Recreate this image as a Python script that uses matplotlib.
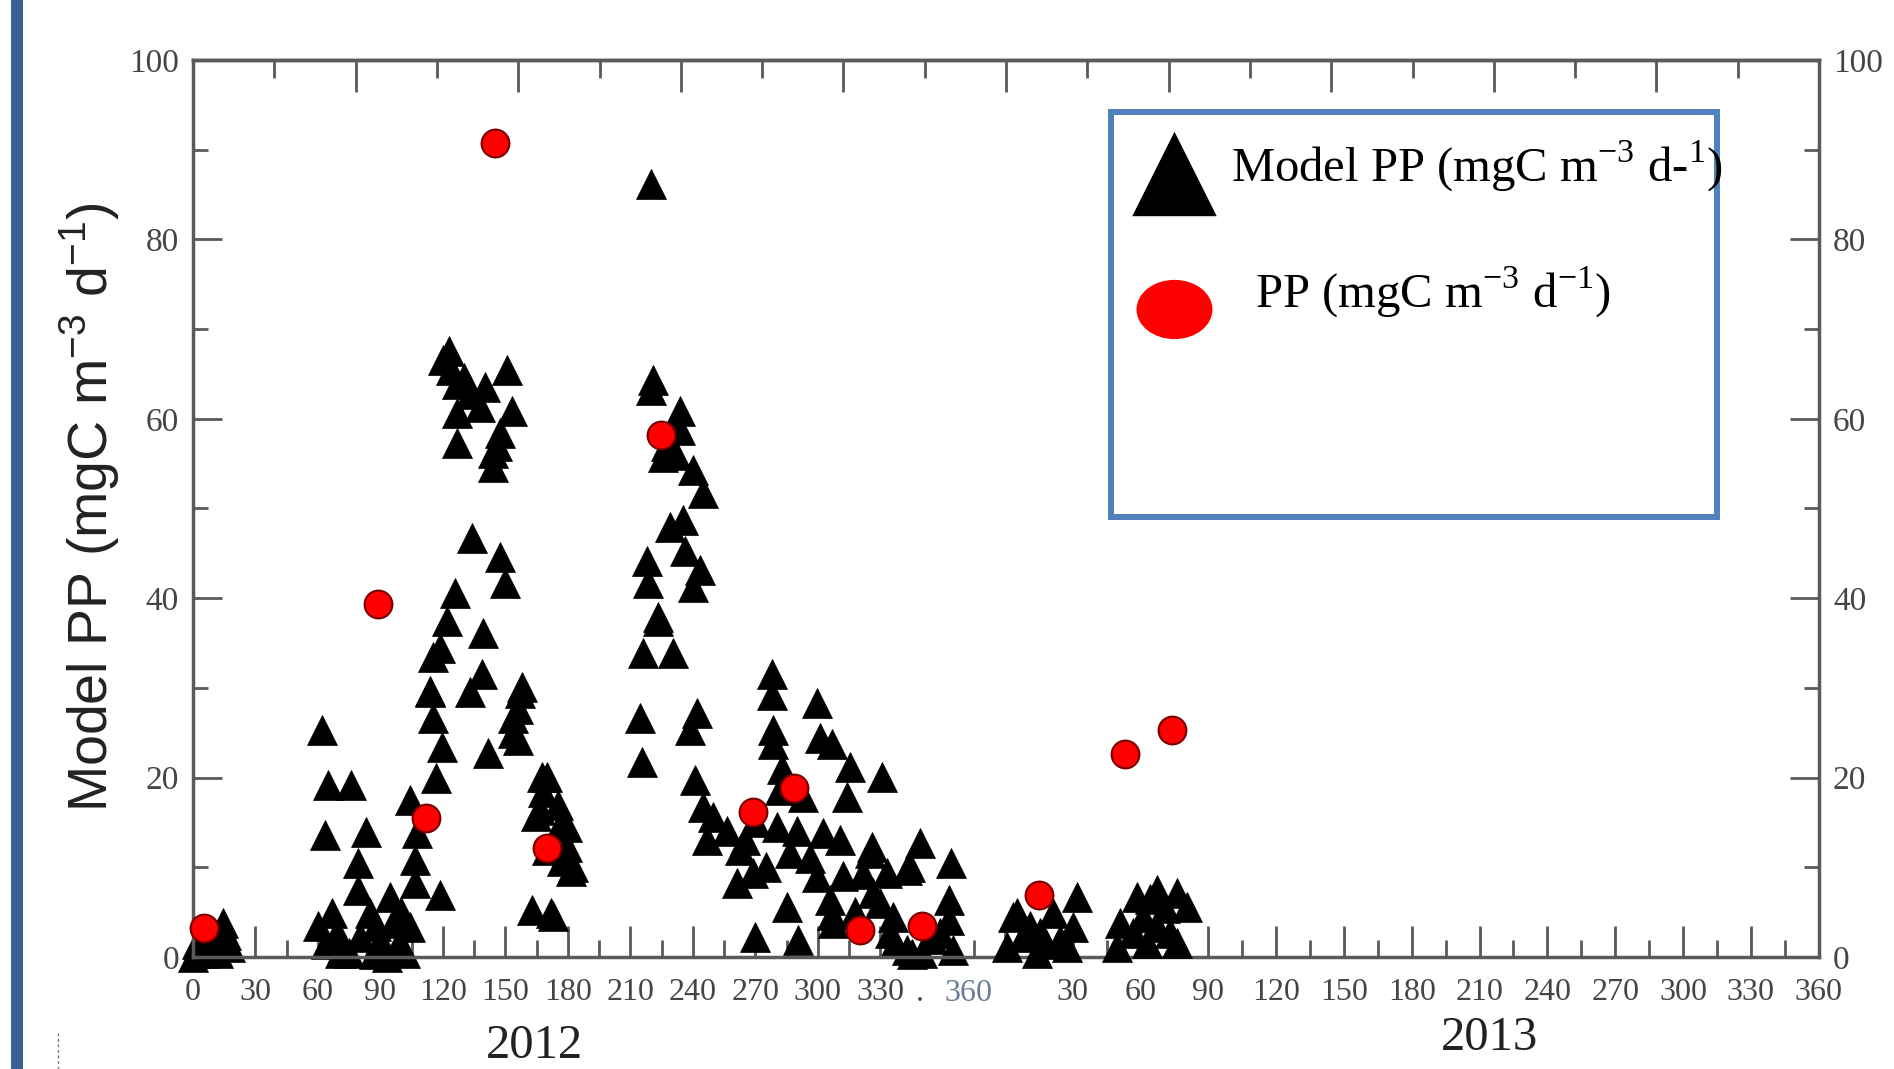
import numpy as np
import matplotlib
matplotlib.use('Agg')
import matplotlib.pyplot as plt
from matplotlib.lines import Line2D
from matplotlib.patches import Rectangle
from matplotlib.path import Path
from matplotlib.ticker import FixedLocator

plt.rcParams['font.family'] = ['Liberation Serif', 'DejaVu Serif']

# model PP 2012 (day of year, mgC m-3 d-1)
model12_day = [0, 2, 4.8, 7, 9.6, 12, 14.4, 16, 17.8,
               60, 62, 63.4, 64, 65, 66.7, 69, 70.6, 72, 75, 76, 79, 79, 80, 83, 85, 87, 88, 90,
               93, 94.6, 96, 98, 100, 102, 104, 104, 106.5, 106.5, 107.5, 113.8, 114, 115, 115.2,
               116.7, 118.5, 118.6, 119.5, 120, 121.9, 123, 124, 125.8, 126.6, 126.6, 126.6, 130,
               133, 133, 134, 137.8, 138.7, 139, 140, 141.6, 144, 144, 146, 147.4, 147.4, 149.8,
               150.7, 153, 153.6, 153.6, 156, 156, 157, 158, 162.7, 164.7, 166.6, 167.5, 168, 170,
               170, 172, 172.8, 175, 176, 177, 179.5, 179.5, 181.5, 182.4,
               214.6, 215.5, 216, 218, 218.4, 220, 220, 221, 223, 223, 225.6, 227, 229, 230.4,
               232, 233.8, 233.8, 235, 236.2, 238.6, 240, 240, 241, 242, 243.4, 244.8, 244.8,
               246.8, 249.6, 256.4, 261, 262.6, 265, 268.8, 269.8, 270, 275, 278, 278, 278.4,
               278.4, 280.4, 281.8, 283, 285, 286.6, 290, 290.4, 292.8, 296, 299.6, 299.6, 301,
               302.4, 305.8, 306.8, 307, 307.2, 310.6, 312, 314, 315.4, 318, 321.6, 325, 326,
               326.5, 329.8, 330.8, 333, 334.6, 336, 337, 342.8, 342.8, 344, 345, 349, 350, 355,
               358.6, 363, 363, 364, 364.8]
model12_pp = [0, 1.5, 0.4, 2.5, 1.1, 0.5, 3.8, 2.5, 1.1,
              3.5, 25.3, 13.6, 1.5, 19.2, 4.9, 2.7, 0.4, 1.1, 0.5, 19.2, 10.5, 7.5, 2.2, 13.9, 4.9, 0.3, 3.5, 1.9,
              0, 6.7, 3.8, 1.1, 5, 0.5, 17.5, 3.3, 10.8, 8.2, 13.8, 29.7, 29.5, 26.6, 33.4,
              19.9, 6.9, 34.5, 23.4, 66.5, 37.5, 67.6, 65.4, 40.6, 63.9, 60.6, 57.3, 64.5,
              62.8, 29.5, 46.7, 61.3, 31.6, 36.1, 63.5, 22.7, 56.2, 54.6, 57, 58.4, 44.6, 41.7,
              65.4, 60.9, 26.7, 25, 24.2, 27.6, 29.4, 30.1, 5.2, 15.7, 16.4, 20.1, 18.4, 11.9,
              20.1, 4.9, 4.6, 16.9, 14.6, 10.7, 12.3, 14.5, 9.6, 10.0,
              26.7, 21.7, 33.9, 44.2, 41.7, 86.2, 63.2, 64.3, 37.9, 37.5, 55.7, 57, 47.9, 33.9,
              56, 60.9, 58.7, 48.7, 45.3, 25.3, 54.3, 41.2, 19.7, 27.2, 43.1, 51.7, 16.7,
              13.0, 15.6, 14.1, 8.2, 11.9, 13, 9.4, 2.2, 15, 10, 31.6, 29.2, 25.3,
              23.8, 14.5, 18.6, 21, 5.6, 11.6, 14, 1.9, 17.8, 11, 28.3, 8.9, 24.4,
              13.8, 6.4, 4.7, 23.8, 3.8, 13.0, 9, 17.8, 21.2, 5, 9.2, 11.6, 12.3,
              7.1, 6.0, 20.1, 9.4, 2.7, 4.5, 1.6, 0.8, 9.7, 10.0, 0.3, 12.7, 0.4, 2,
              2.7, 6.4, 4.1, 10.5, 0.8]

# model PP 2013
model13_day = [0.9, 3.5, 5.3, 8, 11, 14.2, 15.5, 18, 21.2, 24.3, 27.4, 30, 31.8,
               49.6, 51, 56.6, 58.4, 61, 62.8, 64, 67.3, 67.3, 71, 73, 76, 76, 80.5]
model13_pp = [1.1, 4.5, 4.9, 2.2, 3.5, 0.4, 2.7, 1.5, 4.9, 1.9, 1.1, 3.3, 6.7,
              1.1, 3.8, 2.7, 6.7, 4.5, 1.6, 6.5, 7.5, 3.3, 5.5, 2.7, 7.1, 1.6, 5.6]

# measured PP
obs12_day = [5.3, 89, 112, 145, 170, 224.6, 269, 288.4, 320, 350]
obs12_pp = [3.2, 39.4, 15.5, 90.7, 12.1, 58.2, 16.2, 18.8, 3.0, 3.5]
obs13_day = [15, 53, 74]
obs13_pp = [6.9, 22.6, 25.3]

ticks12 = list(range(0, 361, 30))
labels12 = [str(t) for t in ticks12[:-1]] + ['']
ticks13 = list(range(0, 361, 30))
labels13 = [''] + [str(t) for t in ticks13[1:]]

W, H = 1894, 1069
fig = plt.figure(figsize=(W / 100, H / 100), dpi=100)
ax = fig.add_axes([193 / W, 1 - 957 / H, 1626 / W, 897 / H])
ax.set_xlim(0, 780.6)
ax.set_ylim(0, 100)
ax13 = ax.twiny()
ax13.set_xlim(-359.3, 360.2)

tri = dict(ls='none', marker='^', ms=21, mfc='black', mec='black', mew=0.5, clip_on=False)
dot = dict(ls='none', marker='o', ms=20, mfc='#ff0000', mec='#7a0000', mew=1.5, clip_on=False)
ax.plot(model12_day, model12_pp, zorder=2, **tri)
ax.plot(obs12_day, obs12_pp, zorder=3, **dot)
ax13.plot(model13_day, model13_pp, zorder=2, **tri)
ax13.plot(obs13_day, obs13_pp, zorder=3, **dot)

axcol = '#5a5a5a'
labcol = '#454545'
for sp in ax.spines.values():
    sp.set_color(axcol)
    sp.set_linewidth(2.5)
for sp in ax13.spines.values():
    sp.set_visible(False)

ax.set_xticks(ticks12)
ax.set_xticklabels(labels12)
ax.xaxis.set_minor_locator(FixedLocator(np.arange(15, 376, 30)))
ax13.xaxis.set_ticks_position('bottom')
ax13.set_xticks(ticks13)
ax13.set_xticklabels(labels13)
ax13.xaxis.set_minor_locator(FixedLocator(np.arange(15, 346, 30)))
for a in (ax, ax13):
    a.tick_params(axis='x', which='both', direction='in', top=False, bottom=True,
                  labeltop=False, labelbottom=True, color=axcol, width=2,
                  labelcolor=labcol, labelsize=23, pad=15)
    a.tick_params(axis='x', which='major', length=22)
    a.tick_params(axis='x', which='minor', length=12)

ax.set_yticks(range(0, 101, 20))
ax.yaxis.set_minor_locator(FixedLocator(range(10, 100, 20)))
ax.tick_params(axis='y', which='both', direction='in', left=True, right=True,
               labelleft=True, labelright=True, color=axcol, width=2,
               labelcolor=labcol, labelsize=24, pad=10)
ax.tick_params(axis='y', which='major', length=21)
ax.tick_params(axis='y', which='minor', length=11)

# top axis: plain uniform ticks
top = ax.secondary_xaxis('top')
top.set_xticks(np.linspace(0, 780.6, 11))
top.xaxis.set_minor_locator(FixedLocator(np.linspace(39.03, 741.57, 10)))
top.tick_params(axis='x', which='both', direction='in', labeltop=False,
                color=axcol, width=2)
top.tick_params(axis='x', which='major', length=23)
top.tick_params(axis='x', which='minor', length=13)
top.spines['top'].set_color(axcol)
top.spines['top'].set_linewidth(2.5)

xt = ax.get_xaxis_transform()
ax.text(372.5, -0.025, '360', transform=xt, ha='center', va='top',
        fontsize=23, color='#6a7c96')
ax.text(349, -0.025, '.', transform=xt, ha='center', va='top',
        fontsize=23, color=labcol)

# legend box
ax13.add_patch(Rectangle((0.5646, 0.4905), 0.3727, 0.4515, transform=ax.transAxes,
                         facecolor='white', edgecolor='#4f81bd', lw=4.3, zorder=5))
circ = Path.unit_circle()
ell = Path(circ.vertices * [1.0, 0.78] - [0, 0.5], circ.codes)
tri_path = Path([(0, 0.8), (-1, -1.2), (1, -1.2), (0, 0.8)],
                [Path.MOVETO, Path.LINETO, Path.LINETO, Path.CLOSEPOLY])
h1 = Line2D([], [], ls='none', marker=tri_path, ms=73, mfc='black', mec='black', mew=0)
h2 = Line2D([], [], ls='none', marker=ell, ms=70, mfc='#ff0000', mec='#ff0000', mew=0)
lab1 = r'Model PP (mgC m$^{\mathregular{-3}}$ d-$^{\mathregular{1}}$)'
lab2 = r'  PP (mgC m$^{\mathregular{-3}}$ d$^{\mathregular{-1}}$)'
leg = ax13.legend(handles=[h1, h2], labels=[lab1, lab2], loc='upper left',
                  bbox_to_anchor=((1131 - 193) / 1626, (957 - 139) / 897),
                  bbox_transform=ax.transAxes, frameon=False, borderpad=0,
                  borderaxespad=0, prop={'family': 'Liberation Serif', 'size': 35},
                  handlelength=1.77, handletextpad=0.29, labelspacing=1.45,
                  numpoints=1)
leg.set_zorder(6)

fig.text(90 / W, 1 - 507 / H,
         r'Model PP (mgC m$^{\mathregular{-3}}$ d$^{\mathregular{-1}}$)',
         rotation=90, ha='center', va='center', family='Liberation Sans',
         fontsize=40, color='#222222')
fig.text(534 / W, 1 - 1046 / H, '2012', ha='center', va='center', fontsize=35, color='#222222')
fig.text(1489 / W, 1 - 1038 / H, '2013', ha='center', va='center', fontsize=35, color='#222222')

fig.add_artist(Rectangle((11 / W, 0), 12 / W, 1, transform=fig.transFigure,
                         color='#3c6190', lw=0))
fig.add_artist(Line2D([58 / W, 58 / W], [0, 1 - 1030 / H], transform=fig.transFigure,
                      ls=(0, (2, 2)), color='#777777', lw=1))

fig.savefig('out.png', dpi=100, facecolor='white')
